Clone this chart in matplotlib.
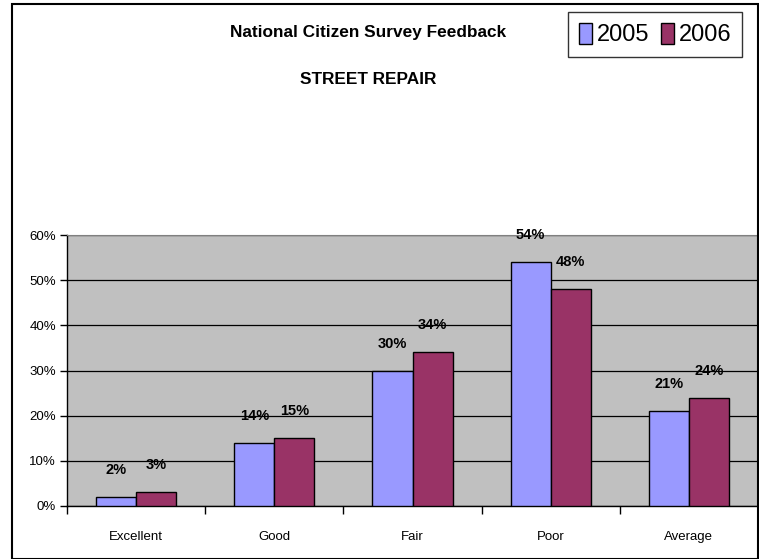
import numpy as np
import matplotlib.pyplot as plt
from matplotlib.patches import Rectangle

plt.rcParams['font.family'] = ['Liberation Sans Narrow', 'Liberation Sans', 'DejaVu Sans']

# Survey data
categories = ['Excellent', 'Good', 'Fair', 'Poor', 'Average']
values_2005 = [2, 14, 30, 54, 21]
values_2006 = [3, 15, 34, 48, 24]
series_names = ['2005', '2006']

BLUE = '#9999FF'
PLUM = '#993366'

fig = plt.figure(figsize=(7.59, 5.59), dpi=100)
ax = fig.add_axes([67 / 759, 1 - 506 / 559, 691 / 759, 271 / 559])
ax.set_facecolor('#C0C0C0')

x = np.arange(len(categories))
w = 0.29
b1 = ax.bar(x - w / 2, values_2005, w, color=BLUE, edgecolor='black', linewidth=1, label=series_names[0], zorder=3)
b2 = ax.bar(x + w / 2, values_2006, w, color=PLUM, edgecolor='black', linewidth=1, label=series_names[1], zorder=3)

for bars, vals in [(b1, values_2005), (b2, values_2006)]:
    for rect, v in zip(bars, vals):
        ax.annotate(f'{v}%', (rect.get_x() + rect.get_width() / 2, v),
                    xytext=(0, 27), textcoords='offset pixels', ha='center', va='center',
                    fontsize=10.5, fontweight='bold', zorder=4)

ax.set_xlim(-0.5, len(categories) - 0.5)
ax.set_ylim(0, 60)
ax.set_yticks(np.arange(0, 61, 10))
ax.set_yticklabels([f'{t}%' for t in range(0, 61, 10)], fontsize=9.5)
ax.yaxis.grid(True, color='black', linewidth=0.9, zorder=1)
ax.set_axisbelow(True)

# category labels centred, tick marks at boundaries
ax.set_xticks(x)
ax.set_xticklabels(categories, fontsize=9.5)
ax.tick_params(axis='x', length=0, pad=18)
ax.set_xticks(np.arange(-0.5, len(categories), 1), minor=True)
ax.tick_params(axis='x', which='minor', length=6, width=1, direction='out')
ax.tick_params(axis='y', length=5, width=1, direction='out', pad=3)

for s in ['left', 'bottom']:
    ax.spines[s].set_color('black')
    ax.spines[s].set_linewidth(1)
ax.spines['top'].set_color('#808080')
ax.spines['right'].set_visible(False)

# titles
fig.text(368 / 759, 1 - 33 / 559, 'National Citizen Survey Feedback', ha='center', va='center',
         fontsize=12.4, fontweight='bold')
fig.text(368 / 759, 1 - 80 / 559, 'STREET REPAIR', ha='center', va='center',
         fontsize=12.4, fontweight='bold')

# legend
leg = fig.legend(handles=[b1, b2], labels=series_names, loc='upper right', ncol=2,
                 bbox_to_anchor=(742 / 759, 1 - 12 / 559), fontsize=17, frameon=True,
                 fancybox=False, shadow=False, handlelength=0.55, handleheight=1.0,
                 handletextpad=0.2, columnspacing=0.5, borderpad=0.45, borderaxespad=0)
leg.get_frame().set_edgecolor('black')
leg.get_frame().set_linewidth(1)

# chart border
fig.patches.append(Rectangle((12 / 759, 0), 745.5 / 759, 1 - 4 / 559, transform=fig.transFigure,
                             fill=False, edgecolor='black', linewidth=1.5))

fig.savefig('out.png', dpi=100)
